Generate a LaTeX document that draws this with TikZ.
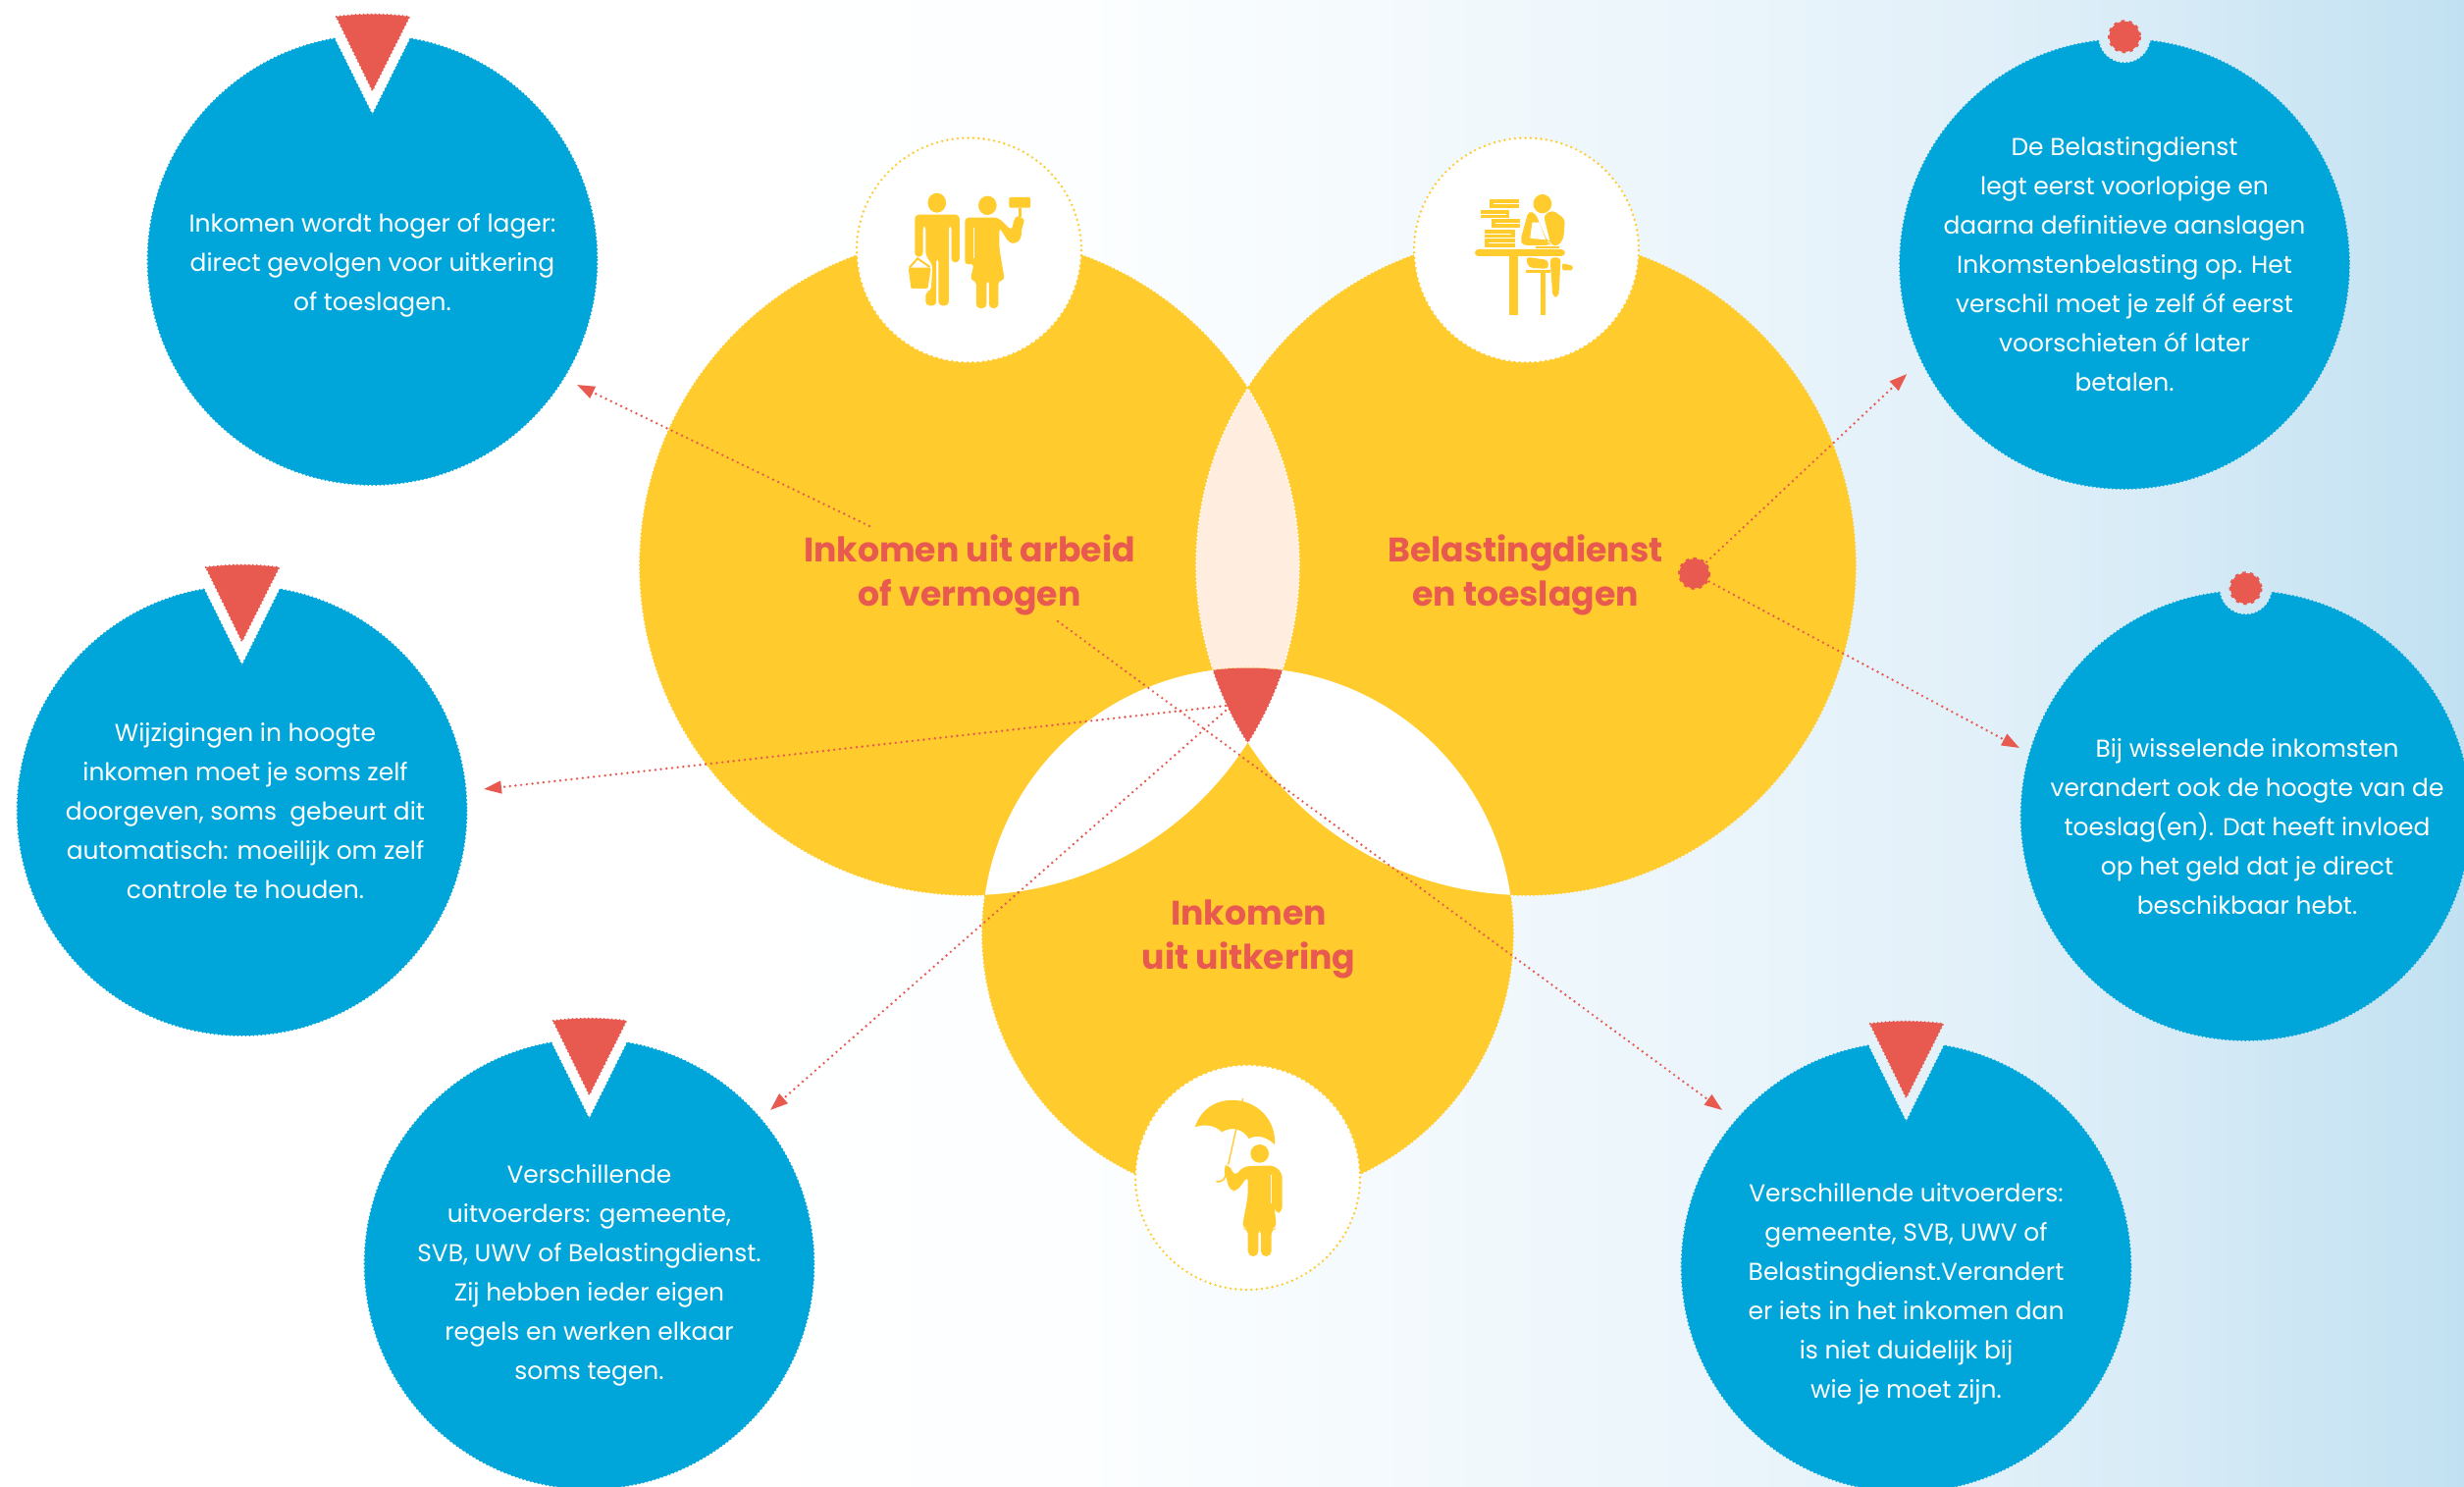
\documentclass[tikz,border=0pt]{standalone}
\usepackage{fontspec}
\setmainfont{Poppins}
\usetikzlibrary{arrows.meta}
\definecolor{sun}{HTML}{FFCB2D}
\definecolor{coral}{HTML}{E8594F}
\definecolor{sky}{HTML}{00A6DA}
\definecolor{peach}{HTML}{FFEEDF}
\definecolor{bgA}{HTML}{FCFEFF}
\definecolor{bgB}{HTML}{EBF5FB}
\definecolor{bgC}{HTML}{E2F0F9}
\definecolor{bgD}{HTML}{D8ECF7}
\definecolor{bgE}{HTML}{CDE6F4}
\definecolor{bgF}{HTML}{C1E1F2}
\pgfdeclarehorizontalshading{pagebg}{100bp}{color(0bp)=(white); color(40bp)=(white); color(47bp)=(bgA); color(59.5bp)=(bgB); color(65bp)=(bgC); color(68.5bp)=(bgD); color(71.8bp)=(bgE); color(75bp)=(bgF); color(100bp)=(bgF)}
\tikzset{
  scallop/.style={line cap=round,dash pattern=on 0pt off 3pt,line width=1.6pt},
  bumps/.style={line width=2.2pt,dash pattern=on 2.6pt off 3.2pt},
  bodytext/.style={text=white,align=center,font=\fontsize{18.7}{30}\selectfont,inner sep=0pt},
  headtext/.style={text=coral,align=center,font=\fontsize{26}{34.2}\selectfont\bfseries,inner sep=0pt},
  link/.style={draw=coral,line cap=round,dash pattern=on 0pt off 4.3pt,line width=2pt,-{Triangle[length=13.5pt,width=9.5pt,fill=coral]}},
  halo/.style={draw=sun,fill=white,line cap=round,dash pattern=on 0pt off 4pt,line width=2pt},
}
\newcommand{\bubbletri}[2]{%
\begin{scope}[shift={(#1,#2)}]
  \begin{scope}[even odd rule]
    \clip (-450,-450) rectangle (450,450) (0,-148) -- (-57,-262.7) -- (57,-262.7) -- cycle;
    \fill[sky] (0,0) circle[radius=229];
    \draw[sky,scallop] (0,0) circle[radius=229];
  \end{scope}
  \draw[sky,scallop] (-38.5,-225.2) -- (0,-148) -- (38.5,-225.2);
  \fill[coral] (-36.8,-248) .. controls (-12,-251.2) and (12,-251.2) .. (37.8,-248) -- (0,-172.7) -- cycle;
  \draw[coral,scallop] (-36.8,-248) .. controls (-12,-251.2) and (12,-251.2) .. (37.8,-248) -- (0,-172.7) -- cycle;
\end{scope}}
\newcommand{\bubbledot}[2]{%
\begin{scope}[shift={(#1,#2)}]
  \begin{scope}[even odd rule]
    \clip (-450,-450) rectangle (450,450) (0,-231.7) circle[radius=27];
    \fill[sky] (0,0) circle[radius=229];
    \draw[sky,scallop] (0,0) circle[radius=229];
  \end{scope}
  \begin{scope}
    \clip (0,0) circle[radius=229];
    \draw[sky,scallop] (0,-231.7) circle[radius=27];
  \end{scope}
  \fill[coral] (0,-231.7) circle[radius=15.5];
  \draw[coral,bumps] (0,-231.7) circle[radius=15.5];
\end{scope}}
\begin{document}
\begin{tikzpicture}[x=.75pt,y=-.75pt]
\useasboundingbox (0,0) rectangle (2511,1515);
\clip (0,0) rectangle (2511,1515);
\shade[shading=pagebg] (0,0) rectangle (2511,1515);
% named connector ends
\coordinate (a1) at (886,536);  \coordinate (a2) at (588,392);
\coordinate (b1) at (1078,633); \coordinate (b2) at (1755,1131);
\coordinate (c1) at (1249,719); \coordinate (c2) at (493,804);
\coordinate (d1) at (1249,724); \coordinate (d2) at (785,1131);
\coordinate (reddot) at (1726.5,584.3);
\coordinate (e2) at (1943.3,381);
\coordinate (f2) at (2058,762);
% venn
\def\circL{(988,576) circle[radius=336]}
\def\circR{(1555,576) circle[radius=336]}
\def\circB{(1271.5,951) circle[radius=270.5]}
\fill[sun] \circL; \draw[sun,scallop] \circL;
\fill[sun] \circR; \draw[sun,scallop] \circR;
\begin{scope}\clip \circL; \fill[peach] \circR; \draw[white,scallop] \circR; \end{scope}
\begin{scope}\clip \circR; \draw[white,scallop] \circL; \end{scope}
\fill[sun] \circB; \draw[sun,scallop] \circB;
\begin{scope}\clip \circB; \fill[white] \circL; \fill[white] \circR; \end{scope}
% connectors
\draw[link] (a1) -- (a2);
\draw[link] (b1) -- (b2);
\draw[link] (c1) -- (c2);
\draw[link] (d1) -- (d2);
\draw[link] (reddot) -- (e2);
\draw[link] (reddot) -- (f2);
\begin{scope}\clip \circB; \clip \circL; \fill[coral] \circR; \draw[coral,scallop] \circR; \end{scope}
\begin{scope}\clip \circB; \clip \circR; \draw[coral,scallop] \circL; \end{scope}
\fill[coral] (reddot) circle[radius=15];
\draw[coral,bumps] (reddot) circle[radius=15];
% white icon circles
\path[halo] (987.5,255) circle[radius=114.5];
\path[halo] (1555.5,255) circle[radius=114.5];
\path[halo] (1271.5,1199.5) circle[radius=114.5];
% icon: man and woman
\begin{scope}[shift={(850,120)},x=.4114pt,y=-.25pt,sun]
\fill (191,260) ellipse[x radius=17,y radius=30];
\fill[rounded corners=3pt] (150,425)--(150,296)--(233,296)--(233,442)--(218,442)--(218,328)--(213,328)--(213,574)--(194,574)--(194,428)--(190,428)--(190,574)--(170,574)--(170,532)--(180,530)--(183,450)--(170,420)--(170,328)--(165,328)--(165,425)--cycle;
\fill[rounded corners=1pt] (138,458)--(180,458)--(174,522)--(143,522)--cycle;
\draw[line width=1.5pt] (140,458) -- (155,430) -- (178,456);
\fill (285,268) ellipse[x radius=17,y radius=29];
\fill[rounded corners=3pt] (243,450)--(243,305)--(305,305)--(330,345)--(335,305)--(343,300)--(355,310)--(348,340)--(348,368)--(338,385)--(325,382)--(307,335)--(307,400)--(317,497)--(305,497)--(305,582)--(288,582)--(288,497)--(283,497)--(283,582)--(264,582)--(264,497)--(253,497)--(260,445)--cycle;
\draw[white,line width=.8pt] (260,335) -- (260,430);
\fill[rounded corners=1pt] (325,243) rectangle (365,275);
\fill (342,275) rectangle (348,302);
\end{scope}
% icon: person reading at a table
\begin{scope}[shift={(850,120)},x=.4114pt,y=-.25pt,sun]
\fill (1217,250) rectangle (1273,275);
\fill (1201,282) rectangle (1255,307);
\fill (1221,310) rectangle (1275,335);
\fill (1208,342) rectangle (1265,367);
\fill (1208,370) rectangle (1265,395);
\draw[white,line width=.8pt] (1225,263) -- (1273,263) (1201,295) -- (1248,295) (1228,323) -- (1275,323) (1208,355) -- (1258,355) (1215,383) -- (1265,383);
\fill (1316,263) ellipse[x radius=17,y radius=29];
\fill[rounded corners=3pt] (1290,285)--(1303,292)--(1310,320)--(1325,378)--(1330,378)--(1330,390)--(1280,390)--(1275,375)--cycle;
\fill[white] (1297,320)--(1293,368)--(1322,373)--(1310,320)--cycle;
\fill[rounded corners=3pt] (1318,298)--(1335,282)--(1358,310)--(1355,370)--(1345,392)--(1332,390)--cycle;
\fill[rounded corners=3pt] (1190,402) rectangle (1358,423);
\fill (1255,423) rectangle (1270,602);
\fill (1312,465) rectangle (1322,602);
\fill (1285,466) rectangle (1330,474);
\fill[rounded corners=3pt] (1285,425)--(1327,435)--(1327,462)--(1290,458)--cycle;
\fill[rounded corners=3pt] (1330,427)--(1350,427)--(1346,548)--(1335,548)--cycle;
\fill[rounded corners=1pt] (1353,445)--(1372,452)--(1372,466)--(1353,466)--cycle;
\fill (1303,392) rectangle (1348,398);
\end{scope}
% icon: woman with umbrella
\begin{scope}[shift={(1130,1070)},x=.25pt,y=-.25pt,sun]
\fill (263,235) .. controls (285,170) and (340,150) .. (385,153) .. controls (450,155) and (512,210) .. (507,288) .. controls (480,262) and (450,258) .. (428,270) .. controls (410,240) and (375,232) .. (345,250) .. controls (325,228) and (290,225) .. (263,235) -- cycle;
\draw[line width=1pt] (410,147) -- (365,350);
\draw[line width=1.2pt] (358,372) .. controls (358,395) and (345,405) .. (328,401);
\fill (461,316) circle[radius=28];
\fill[rounded corners=4pt] (350,358)--(365,346)--(385,385)--(412,355)--(505,352)--(530,375)--(530,497)--(507,497)--(505,470)--(513,545)--(497,545)--(497,630)--(465,630)--(465,545)--(457,545)--(457,630)--(425,630)--(425,545)--(407,545)--(425,445)--(425,385)--(392,430)--(370,430)--cycle;
\draw[white,line width=.8pt] (497,382) -- (497,468);
\end{scope}
% blue bubbles
\bubbletri{379.5}{265}
\bubbletri{246.6}{826}
\bubbletri{600.5}{1288}
\bubbletri{1942.5}{1291}
\bubbledot{2165}{269}
\bubbledot{2288.5}{831}
% headings
\node[headtext] (h1) at (988,586) {Inkomen uit arbeid\\of vermogen};
\node[headtext] (h2) at (1554.5,586) {Belastingdienst\\en toeslagen};
\node[headtext] (h3) at (1272.5,957) {Inkomen\\uit uitkering};
% bubble texts
\node[bodytext] (t1) at (379.5,270.5) {Inkomen wordt hoger of lager:\\direct gevolgen voor uitkering\\of toeslagen.};
\node[bodytext] (t2) at (250,826) {Wijzigingen in hoogte\\inkomen moet je soms zelf\\doorgeven, soms\ \ gebeurt dit\\automatisch: moeilijk om zelf\\controle te houden.};
\node[bodytext] (t3) at (600.5,1299.5) {Verschillende\\uitvoerders: gemeente,\\SVB, UWV of Belastingdienst.\\Zij hebben ieder eigen\\regels en werken elkaar\\soms tegen.};
\node[bodytext] (t4) at (2165,269) {De Belastingdienst\\legt eerst voorlopige en\\daarna definitieve aanslagen\\Inkomstenbelasting op. Het\\verschil moet je zelf óf eerst\\voorschieten óf later\\betalen.};
\node[bodytext] (t5) at (2290,842) {Bij wisselende inkomsten\\verandert ook de hoogte van de\\toeslag(en). Dat heeft invloed\\op het geld dat je direct\\beschikbaar hebt.};
\node[bodytext] (t6) at (1942.5,1318.5) {Verschillende uitvoerders:\\gemeente, SVB, UWV of\\Belastingdienst.Verandert\\er iets in het inkomen dan\\is niet duidelijk bij\\wie je moet zijn.};
\end{tikzpicture}
\end{document}
